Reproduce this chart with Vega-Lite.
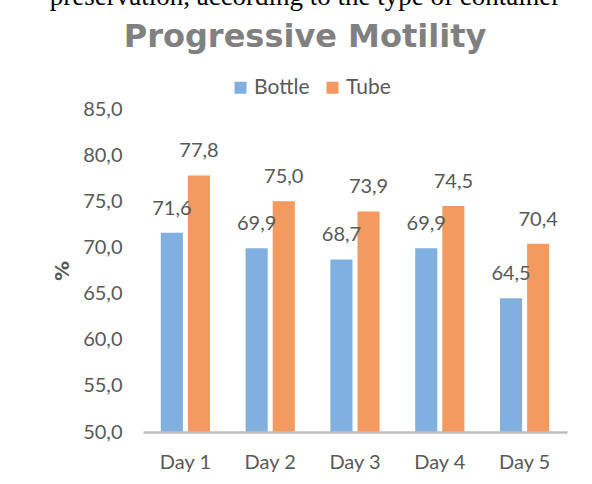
{
  "$schema": "https://vega.github.io/schema/vega-lite/v6.json",
  "autosize": "none",
  "width": 424,
  "height": 323,
  "padding": {"left": 143, "top": 109, "right": 25, "bottom": 52},
  "background": "white",
  "config": {
    "locale": {"number": {"decimal": ",", "thousands": ".", "grouping": [3], "currency": ["", " €"]}},
    "view": {"stroke": null},
    "font": "Lato"
  },
  "title": {
    "text": "preservation, according to the type of container",
    "subtitle": "Progressive Motility",
    "font": "Liberation Serif",
    "fontSize": 27,
    "fontWeight": "normal",
    "color": "#000000",
    "subtitleFont": "DejaVu Sans",
    "subtitleFontSize": 32,
    "subtitleFontWeight": "bold",
    "subtitleColor": "#808080",
    "subtitlePadding": 11,
    "anchor": "middle",
    "dx": -50,
    "offset": 23
  },
  "data": {
    "values": [
      {"day": "Day 1", "series": "Bottle", "value": 71.6},
      {"day": "Day 1", "series": "Tube", "value": 77.8},
      {"day": "Day 2", "series": "Bottle", "value": 69.9},
      {"day": "Day 2", "series": "Tube", "value": 75.0},
      {"day": "Day 3", "series": "Bottle", "value": 68.7},
      {"day": "Day 3", "series": "Tube", "value": 73.9},
      {"day": "Day 4", "series": "Bottle", "value": 69.9},
      {"day": "Day 4", "series": "Tube", "value": 74.5},
      {"day": "Day 5", "series": "Bottle", "value": 64.5},
      {"day": "Day 5", "series": "Tube", "value": 70.4}
    ]
  },
  "encoding": {
    "x": {
      "field": "day", "type": "nominal",
      "scale": {"paddingInner": 0.42, "paddingOuter": 0.21},
      "axis": {
        "title": null, "labelAngle": 0, "labelFontSize": 20, "labelColor": "#595959",
        "labelPadding": 20, "ticks": false, "domainColor": "#bfbfbf", "domainWidth": 2.5, "zindex": 1
      }
    },
    "xOffset": {"field": "series", "type": "nominal", "scale": {"paddingInner": 0.185, "paddingOuter": 0}},
    "y": {
      "field": "value", "type": "quantitative",
      "scale": {"domain": [50, 85], "zero": false, "nice": false},
      "axis": {
        "title": "%", "titleAngle": -90, "titleFontSize": 20, "titleFontWeight": "bold", "titleColor": "#595959",
        "titlePadding": 10, "titleFont": "DejaVu Sans",
        "values": [50, 55, 60, 65, 70, 75, 80, 85], "format": ".1f",
        "labelFontSize": 20, "labelColor": "#595959", "labelPadding": 21,
        "ticks": false, "domain": false, "grid": false
      }
    }
  },
  "layer": [
    {
      "mark": {"type": "bar"},
      "encoding": {
        "y2": {"datum": 50},
        "color": {
          "field": "series", "type": "nominal",
          "scale": {"domain": ["Bottle", "Tube"], "range": ["#80b0e0", "#f29a60"]},
          "legend": {
            "title": null, "orient": "none", "legendX": 87, "legendY": -32, "direction": "horizontal",
            "symbolType": "square", "symbolSize": 144, "symbolStrokeWidth": 0,
            "labelFontSize": 21, "labelColor": "#595959", "columnPadding": 12,
            "labelOffset": 3
          }
        }
      }
    },
    {
      "mark": {"type": "text", "baseline": "alphabetic", "dy": -18, "fontSize": 20, "color": "#595959"},
      "encoding": {
        "text": {"field": "value", "type": "quantitative", "format": ".1f"}
      }
    }
  ]
}
